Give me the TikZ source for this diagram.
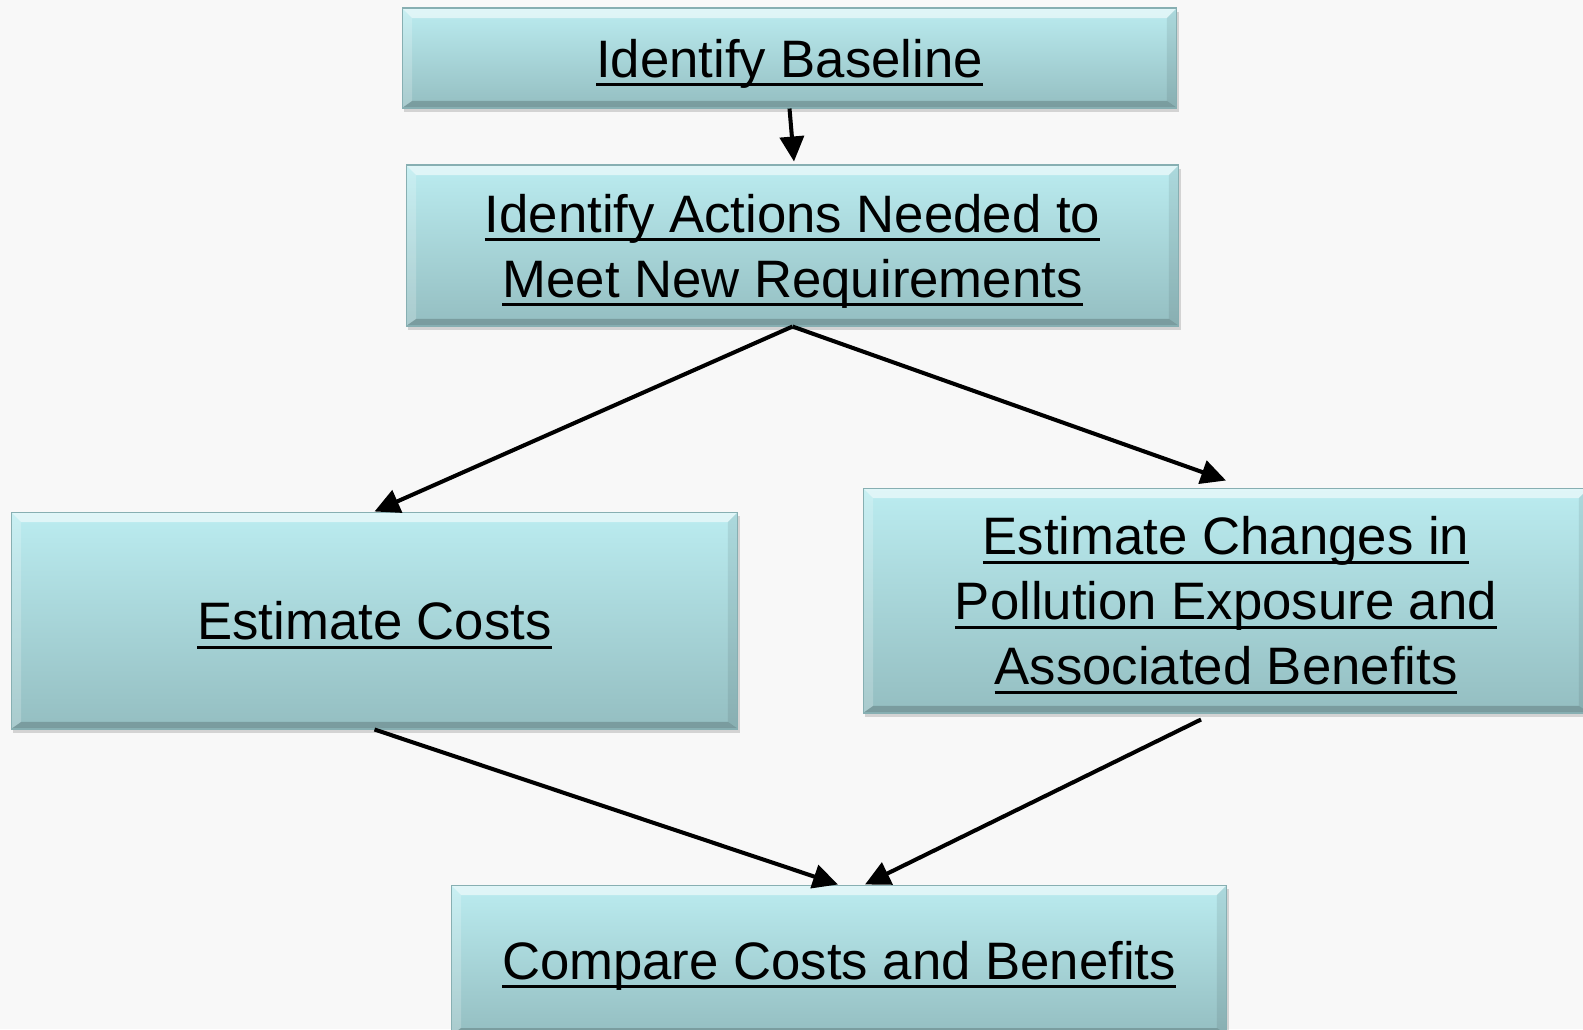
\documentclass[tikz,border=0pt]{standalone}
\usepackage{fontspec}
\setmainfont{Liberation Sans}
\usetikzlibrary{arrows.meta,shadows}

% underlined line of box text
\newcommand{\undl}[1]{\setbox0\hbox{#1}\rlap{\vrule width \wd0 height -3.4pt depth 5.3pt}\box0}
\newcommand{\boxfont}{\fontsize{30}{37}\selectfont}

\definecolor{pagebg}{RGB}{248,248,248}
\definecolor{boxtop}{RGB}{187,236,240}
\definecolor{boxbot}{RGB}{148,190,193}
\definecolor{boxedge}{RGB}{135,175,178}

\tikzset{
	stepbox/.style={top color=boxtop, bottom color=boxbot, draw=boxedge, line width=0.6pt,
		inner sep=0pt, text depth=0pt, align=center, font=\boxfont,
		drop shadow={shadow xshift=1pt, shadow yshift=-2.5pt, opacity=0.3},
		path picture={
			\coordinate (nw) at (path picture bounding box.north west);
			\coordinate (ne) at (path picture bounding box.north east);
			\coordinate (sw) at (path picture bounding box.south west);
			\coordinate (se) at (path picture bounding box.south east);
			% bevelled rim: lit top and left, shaded right and bottom
			\fill[white,opacity=0.55] (nw) -- (ne) -- ([shift={(-0.2cm,-0.2cm)}]ne) -- ([shift={(0.2cm,-0.2cm)}]nw) -- cycle;
			\fill[white,opacity=0.2] (nw) -- ([shift={(0.2cm,-0.2cm)}]nw) -- ([shift={(0.2cm,0.14cm)}]sw) -- (sw) -- cycle;
			\fill[black,opacity=0.08] (ne) -- ([shift={(-0.2cm,-0.2cm)}]ne) -- ([shift={(-0.2cm,0.14cm)}]se) -- (se) -- cycle;
			\fill[black,opacity=0.18] (sw) -- ([shift={(0.2cm,0.14cm)}]sw) -- ([shift={(-0.2cm,0.14cm)}]se) -- (se) -- cycle;
		}},
	conn/.style={line width=2.3pt, -{Triangle[length=0.5cm,width=0.48cm]}}
}

\begin{document}
\begin{tikzpicture}[x=0.02cm, y=-0.02cm]
	\fill[pagebg] (0,0) rectangle (1583,1029);
	\useasboundingbox (0,0) rectangle (1583,1029);

	% the five steps
	\node[stepbox, minimum width=15.5cm, minimum height=2cm] (base) at (789.5,58) {\undl{Identify Baseline}};
	\node[stepbox, minimum width=15.46cm, minimum height=3.22cm] (actions) at (792.5,245.5) {\undl{Identify Actions Needed to}\\\undl{Meet New Requirements}};
	\node[stepbox, minimum width=14.54cm, minimum height=4.34cm] (costs) at (374.5,620.5) {\undl{Estimate Costs}};
	\node[stepbox, minimum width=14.52cm, minimum height=4.5cm] (benefits) at (1226,600.5) {\undl{Estimate Changes in}\\\undl{Pollution Exposure and}\\\undl{Associated Benefits}};
	\node[stepbox, minimum width=15.52cm, minimum height=3cm] (compare) at (839,960) {\undl{Compare Costs and Benefits}};

	% connectors
	\draw[conn] (base.south) -- ([xshift=0.03cm,yshift=0.06cm]actions.north);
	\draw[conn] (actions.south) -- (costs.north);
	\draw[conn] (actions.south) -- ([yshift=0.14cm]benefits.north);
	\draw[conn] (costs.south) -- ([xshift=-0.02cm]compare.north);
	\draw[conn] ([xshift=-0.5cm,yshift=-0.12cm]benefits.south) -- ([xshift=0.52cm]compare.north);
\end{tikzpicture}
\end{document}
